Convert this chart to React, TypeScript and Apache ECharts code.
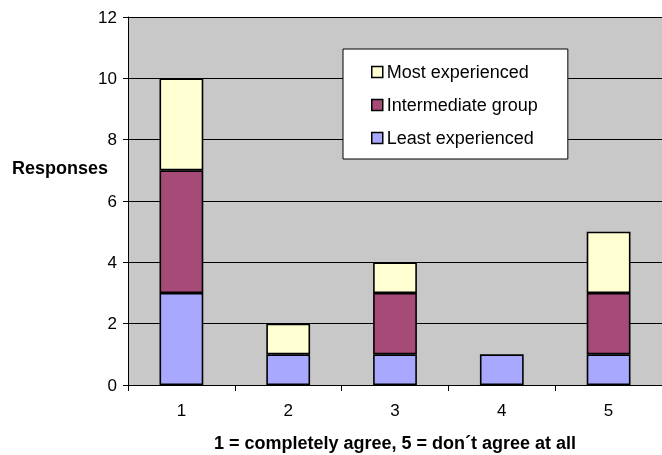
import React, { useEffect, useRef } from "react";
import * as echarts from "echarts";

const categories = ["1", "2", "3", "4", "5"];
const leastExperienced = [3, 1, 1, 1, 1];
const intermediateGroup = [4, 0, 2, 0, 2];
const mostExperienced = [3, 1, 1, 0, 2];
const yAxisTitle = "Responses";
const xAxisTitle = "1 = completely agree, 5 = don\u00b4t agree at all";

const FONT = "Arial, 'Liberation Sans', sans-serif";

export default function App() {
  const ref = useRef<HTMLDivElement>(null);
  useEffect(() => {
    if (!ref.current) return;
    const chart = echarts.init(ref.current, null, { renderer: "svg" });
    const mk = (name: string, data: number[], color: string) => ({
      name,
      type: "bar",
      stack: "total",
      barWidth: "41%",
      data: data.map((v) => (v === 0 ? null : v)),
      itemStyle: { color, borderColor: "#000", borderWidth: 1.6 },
      emphasis: { disabled: true },
    });
    chart.setOption({
      animation: false,
      textStyle: { fontFamily: FONT },
      grid: { left: 128, right: 0, top: 17, bottom: 70, show: true, backgroundColor: "#C8C8C8", borderWidth: 0 },
      legend: {
        orient: "vertical",
        left: 343,
        top: 49,
        data: ["Most experienced", "Intermediate group", "Least experienced"],
        backgroundColor: "#fff",
        borderColor: "#000",
        borderWidth: 1,
        padding: [14, 30, 12, 28],
        itemWidth: 11,
        itemHeight: 11,
        itemGap: 15,
        icon: "rect",
        itemStyle: { borderWidth: 1.5, borderColor: "#000" },
        textStyle: { fontSize: 18, color: "#000", fontFamily: FONT, padding: [0, 0, 0, -1] },
      },
      xAxis: {
        type: "category",
        data: categories,
        axisLine: { lineStyle: { color: "#000", width: 1 } },
        axisTick: { show: true, length: 6, lineStyle: { color: "#000" } },
        axisLabel: { fontSize: 17, color: "#000", margin: 17, fontFamily: FONT },
      },
      yAxis: {
        type: "value",
        min: 0,
        max: 12,
        interval: 2,
        axisLine: { show: true, lineStyle: { color: "#000", width: 1 } },
        axisTick: { show: true, length: 5, lineStyle: { color: "#000" } },
        axisLabel: { fontSize: 17, color: "#000", margin: 11, fontFamily: FONT },
        splitLine: { lineStyle: { color: "#000", width: 1 } },
      },
      graphic: [
        {
          type: "text",
          x: 12,
          y: 168,
          style: { text: yAxisTitle, font: `bold 18px ${FONT}`, fill: "#000", textVerticalAlign: "middle" },
        },
        {
          type: "text",
          x: 395,
          y: 443,
          style: { text: xAxisTitle, font: `bold 18px ${FONT}`, fill: "#000", textAlign: "center", textVerticalAlign: "middle" },
        },
      ],
      series: [
        mk("Least experienced", leastExperienced, "#A8A8FF"),
        mk("Intermediate group", intermediateGroup, "#A64A78"),
        mk("Most experienced", mostExperienced, "#FFFFD2"),
      ],
    });
    return () => chart.dispose();
  }, []);
  return <div ref={ref} style={{ position: "fixed", left: 0, top: 0, width: 662, height: 455 }} />;
}
